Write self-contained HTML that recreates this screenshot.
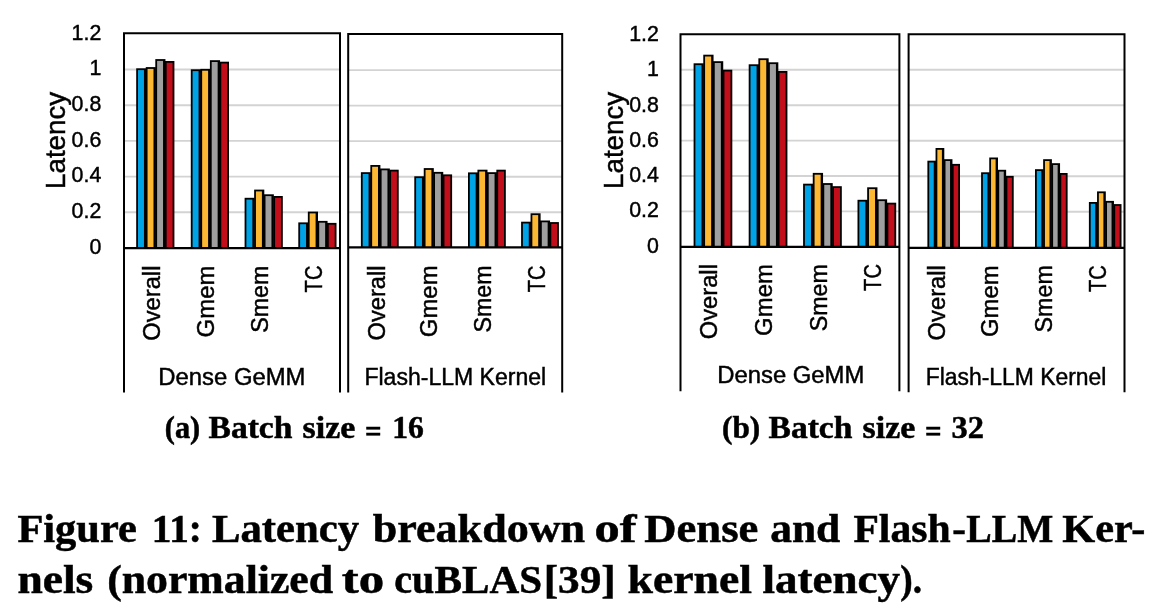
<!DOCTYPE html>
<html><head><meta charset="utf-8"><title>Figure 11</title>
<style>
html,body{margin:0;padding:0;background:#fff;}
body{width:1156px;height:614px;overflow:hidden;font-family:"Liberation Sans", sans-serif;}
svg{display:block;will-change:transform;}
svg text{font-family:"Liberation Sans", sans-serif;fill:#000;}
svg text.sf{font-family:"Liberation Serif", serif;}
svg text:not(.sf){stroke:#000;stroke-width:0.45px;}
svg text.sf{stroke:#000;stroke-width:0.5px;}
</style></head><body>
<svg width="1156" height="614" viewBox="0 0 1156 614">
<rect width="1156" height="614" fill="#fff"/>
<line x1="124.00" x2="340.00" y1="69.50" y2="69.50" stroke="#D3D3D3" stroke-width="1.9"/>
<line x1="124.00" x2="340.00" y1="105.20" y2="105.20" stroke="#D3D3D3" stroke-width="1.9"/>
<line x1="124.00" x2="340.00" y1="140.90" y2="140.90" stroke="#D3D3D3" stroke-width="1.9"/>
<line x1="124.00" x2="340.00" y1="176.60" y2="176.60" stroke="#D3D3D3" stroke-width="1.9"/>
<line x1="124.00" x2="340.00" y1="212.30" y2="212.30" stroke="#D3D3D3" stroke-width="1.9"/>
<rect x="136.20" y="68.30" width="10.15" height="179.75" fill="#000"/>
<rect x="145.75" y="67.10" width="10.15" height="180.95" fill="#000"/>
<rect x="155.30" y="59.10" width="10.15" height="188.95" fill="#000"/>
<rect x="164.85" y="61.00" width="9.55" height="187.05" fill="#000"/>
<rect x="190.80" y="69.30" width="10.15" height="178.75" fill="#000"/>
<rect x="200.35" y="68.90" width="10.15" height="179.15" fill="#000"/>
<rect x="209.90" y="60.20" width="10.15" height="187.85" fill="#000"/>
<rect x="219.45" y="61.70" width="9.55" height="186.35" fill="#000"/>
<rect x="244.60" y="197.80" width="10.15" height="50.25" fill="#000"/>
<rect x="254.15" y="189.60" width="10.15" height="58.45" fill="#000"/>
<rect x="263.70" y="194.30" width="10.15" height="53.75" fill="#000"/>
<rect x="273.25" y="196.00" width="9.55" height="52.05" fill="#000"/>
<rect x="298.30" y="222.40" width="10.15" height="25.65" fill="#000"/>
<rect x="307.85" y="211.60" width="10.15" height="36.45" fill="#000"/>
<rect x="317.40" y="220.90" width="10.15" height="27.15" fill="#000"/>
<rect x="326.95" y="222.90" width="9.55" height="25.15" fill="#000"/>
<rect x="138.00" y="70.10" width="5.95" height="177.95" fill="#00A4E6"/>
<rect x="147.55" y="68.90" width="5.95" height="179.15" fill="#FDB833"/>
<rect x="157.10" y="60.90" width="5.95" height="187.15" fill="#9F9F9F"/>
<rect x="166.65" y="62.80" width="5.95" height="185.25" fill="#C20D1B"/>
<rect x="192.60" y="71.10" width="5.95" height="176.95" fill="#00A4E6"/>
<rect x="202.15" y="70.70" width="5.95" height="177.35" fill="#FDB833"/>
<rect x="211.70" y="62.00" width="5.95" height="186.05" fill="#9F9F9F"/>
<rect x="221.25" y="63.50" width="5.95" height="184.55" fill="#C20D1B"/>
<rect x="246.40" y="199.60" width="5.95" height="48.45" fill="#00A4E6"/>
<rect x="255.95" y="191.40" width="5.95" height="56.65" fill="#FDB833"/>
<rect x="265.50" y="196.10" width="5.95" height="51.95" fill="#9F9F9F"/>
<rect x="275.05" y="197.80" width="5.95" height="50.25" fill="#C20D1B"/>
<rect x="300.10" y="224.20" width="5.95" height="23.85" fill="#00A4E6"/>
<rect x="309.65" y="213.40" width="5.95" height="34.65" fill="#FDB833"/>
<rect x="319.20" y="222.70" width="5.95" height="25.35" fill="#9F9F9F"/>
<rect x="328.75" y="224.70" width="5.95" height="23.35" fill="#C20D1B"/>
<path d="M124.00,392.50 V33.20 H340.00 V392.50" fill="none" stroke="#000" stroke-width="2.0" stroke-linejoin="miter"/>
<line x1="124.00" x2="340.00" y1="248.05" y2="248.05" stroke="#000" stroke-width="2.2"/>
<line x1="348.20" x2="562.20" y1="70.15" y2="70.15" stroke="#D3D3D3" stroke-width="1.9"/>
<line x1="348.20" x2="562.20" y1="105.66" y2="105.66" stroke="#D3D3D3" stroke-width="1.9"/>
<line x1="348.20" x2="562.20" y1="141.17" y2="141.17" stroke="#D3D3D3" stroke-width="1.9"/>
<line x1="348.20" x2="562.20" y1="176.68" y2="176.68" stroke="#D3D3D3" stroke-width="1.9"/>
<line x1="348.20" x2="562.20" y1="212.19" y2="212.19" stroke="#D3D3D3" stroke-width="1.9"/>
<rect x="360.90" y="172.20" width="10.05" height="75.10" fill="#000"/>
<rect x="370.35" y="165.00" width="10.05" height="82.30" fill="#000"/>
<rect x="379.80" y="168.50" width="10.05" height="78.80" fill="#000"/>
<rect x="389.25" y="169.70" width="9.45" height="77.60" fill="#000"/>
<rect x="414.30" y="176.30" width="10.05" height="71.00" fill="#000"/>
<rect x="423.75" y="168.10" width="10.05" height="79.20" fill="#000"/>
<rect x="433.20" y="171.90" width="10.05" height="75.40" fill="#000"/>
<rect x="442.65" y="174.40" width="9.45" height="72.90" fill="#000"/>
<rect x="468.00" y="172.40" width="10.05" height="74.90" fill="#000"/>
<rect x="477.45" y="169.70" width="10.05" height="77.60" fill="#000"/>
<rect x="486.90" y="172.20" width="10.05" height="75.10" fill="#000"/>
<rect x="496.35" y="169.70" width="9.45" height="77.60" fill="#000"/>
<rect x="521.10" y="221.70" width="10.05" height="25.60" fill="#000"/>
<rect x="530.55" y="213.30" width="10.05" height="34.00" fill="#000"/>
<rect x="540.00" y="220.50" width="10.05" height="26.80" fill="#000"/>
<rect x="549.45" y="222.10" width="9.45" height="25.20" fill="#000"/>
<rect x="362.70" y="174.00" width="5.85" height="73.30" fill="#00A4E6"/>
<rect x="372.15" y="166.80" width="5.85" height="80.50" fill="#FDB833"/>
<rect x="381.60" y="170.30" width="5.85" height="77.00" fill="#9F9F9F"/>
<rect x="391.05" y="171.50" width="5.85" height="75.80" fill="#C20D1B"/>
<rect x="416.10" y="178.10" width="5.85" height="69.20" fill="#00A4E6"/>
<rect x="425.55" y="169.90" width="5.85" height="77.40" fill="#FDB833"/>
<rect x="435.00" y="173.70" width="5.85" height="73.60" fill="#9F9F9F"/>
<rect x="444.45" y="176.20" width="5.85" height="71.10" fill="#C20D1B"/>
<rect x="469.80" y="174.20" width="5.85" height="73.10" fill="#00A4E6"/>
<rect x="479.25" y="171.50" width="5.85" height="75.80" fill="#FDB833"/>
<rect x="488.70" y="174.00" width="5.85" height="73.30" fill="#9F9F9F"/>
<rect x="498.15" y="171.50" width="5.85" height="75.80" fill="#C20D1B"/>
<rect x="522.90" y="223.50" width="5.85" height="23.80" fill="#00A4E6"/>
<rect x="532.35" y="215.10" width="5.85" height="32.20" fill="#FDB833"/>
<rect x="541.80" y="222.30" width="5.85" height="25.00" fill="#9F9F9F"/>
<rect x="551.25" y="223.90" width="5.85" height="23.40" fill="#C20D1B"/>
<path d="M348.20,392.50 V34.00 H562.20 V392.50" fill="none" stroke="#000" stroke-width="2.0" stroke-linejoin="miter"/>
<line x1="348.20" x2="562.20" y1="247.30" y2="247.30" stroke="#000" stroke-width="2.2"/>
<line x1="680.50" x2="899.40" y1="69.77" y2="69.77" stroke="#D3D3D3" stroke-width="1.9"/>
<line x1="680.50" x2="899.40" y1="105.18" y2="105.18" stroke="#D3D3D3" stroke-width="1.9"/>
<line x1="680.50" x2="899.40" y1="140.58" y2="140.58" stroke="#D3D3D3" stroke-width="1.9"/>
<line x1="680.50" x2="899.40" y1="175.99" y2="175.99" stroke="#D3D3D3" stroke-width="1.9"/>
<line x1="680.50" x2="899.40" y1="211.39" y2="211.39" stroke="#D3D3D3" stroke-width="1.9"/>
<rect x="693.60" y="63.30" width="10.28" height="183.60" fill="#000"/>
<rect x="703.27" y="54.70" width="10.28" height="192.20" fill="#000"/>
<rect x="712.95" y="61.20" width="10.28" height="185.70" fill="#000"/>
<rect x="722.62" y="69.70" width="9.68" height="177.20" fill="#000"/>
<rect x="748.70" y="64.30" width="10.28" height="182.60" fill="#000"/>
<rect x="758.38" y="58.30" width="10.28" height="188.60" fill="#000"/>
<rect x="768.05" y="62.30" width="10.28" height="184.60" fill="#000"/>
<rect x="777.73" y="71.00" width="9.68" height="175.90" fill="#000"/>
<rect x="803.10" y="183.70" width="10.28" height="63.20" fill="#000"/>
<rect x="812.77" y="172.90" width="10.28" height="74.00" fill="#000"/>
<rect x="822.45" y="183.10" width="10.28" height="63.80" fill="#000"/>
<rect x="832.12" y="186.20" width="9.68" height="60.70" fill="#000"/>
<rect x="857.50" y="199.80" width="10.28" height="47.10" fill="#000"/>
<rect x="867.17" y="187.30" width="10.28" height="59.60" fill="#000"/>
<rect x="876.85" y="199.30" width="10.28" height="47.60" fill="#000"/>
<rect x="886.52" y="202.70" width="9.68" height="44.20" fill="#000"/>
<rect x="695.40" y="65.10" width="6.08" height="181.80" fill="#00A4E6"/>
<rect x="705.07" y="56.50" width="6.08" height="190.40" fill="#FDB833"/>
<rect x="714.75" y="63.00" width="6.08" height="183.90" fill="#9F9F9F"/>
<rect x="724.42" y="71.50" width="6.08" height="175.40" fill="#C20D1B"/>
<rect x="750.50" y="66.10" width="6.08" height="180.80" fill="#00A4E6"/>
<rect x="760.17" y="60.10" width="6.08" height="186.80" fill="#FDB833"/>
<rect x="769.85" y="64.10" width="6.08" height="182.80" fill="#9F9F9F"/>
<rect x="779.52" y="72.80" width="6.08" height="174.10" fill="#C20D1B"/>
<rect x="804.90" y="185.50" width="6.08" height="61.40" fill="#00A4E6"/>
<rect x="814.57" y="174.70" width="6.08" height="72.20" fill="#FDB833"/>
<rect x="824.25" y="184.90" width="6.08" height="62.00" fill="#9F9F9F"/>
<rect x="833.92" y="188.00" width="6.08" height="58.90" fill="#C20D1B"/>
<rect x="859.30" y="201.60" width="6.08" height="45.30" fill="#00A4E6"/>
<rect x="868.97" y="189.10" width="6.08" height="57.80" fill="#FDB833"/>
<rect x="878.65" y="201.10" width="6.08" height="45.80" fill="#9F9F9F"/>
<rect x="888.32" y="204.50" width="6.08" height="42.40" fill="#C20D1B"/>
<path d="M680.50,391.30 V34.15 H899.40 V391.30" fill="none" stroke="#000" stroke-width="2.0" stroke-linejoin="miter"/>
<line x1="680.50" x2="899.40" y1="246.90" y2="246.90" stroke="#000" stroke-width="2.2"/>
<line x1="908.60" x2="1124.50" y1="69.77" y2="69.77" stroke="#D3D3D3" stroke-width="1.9"/>
<line x1="908.60" x2="1124.50" y1="105.27" y2="105.27" stroke="#D3D3D3" stroke-width="1.9"/>
<line x1="908.60" x2="1124.50" y1="140.77" y2="140.77" stroke="#D3D3D3" stroke-width="1.9"/>
<line x1="908.60" x2="1124.50" y1="176.27" y2="176.27" stroke="#D3D3D3" stroke-width="1.9"/>
<line x1="908.60" x2="1124.50" y1="211.77" y2="211.77" stroke="#D3D3D3" stroke-width="1.9"/>
<rect x="927.40" y="160.70" width="8.75" height="87.20" fill="#000"/>
<rect x="935.55" y="148.00" width="8.75" height="99.90" fill="#000"/>
<rect x="943.70" y="159.20" width="8.75" height="88.70" fill="#000"/>
<rect x="951.85" y="163.90" width="8.15" height="84.00" fill="#000"/>
<rect x="981.10" y="172.30" width="8.75" height="75.60" fill="#000"/>
<rect x="989.25" y="157.50" width="8.75" height="90.40" fill="#000"/>
<rect x="997.40" y="169.80" width="8.75" height="78.10" fill="#000"/>
<rect x="1005.55" y="175.90" width="8.15" height="72.00" fill="#000"/>
<rect x="1035.00" y="169.20" width="8.75" height="78.70" fill="#000"/>
<rect x="1043.15" y="159.20" width="8.75" height="88.70" fill="#000"/>
<rect x="1051.30" y="163.20" width="8.75" height="84.70" fill="#000"/>
<rect x="1059.45" y="173.00" width="8.15" height="74.90" fill="#000"/>
<rect x="1088.90" y="202.00" width="8.75" height="45.90" fill="#000"/>
<rect x="1097.05" y="191.40" width="8.75" height="56.50" fill="#000"/>
<rect x="1105.20" y="200.90" width="8.75" height="47.00" fill="#000"/>
<rect x="1113.35" y="204.10" width="8.15" height="43.80" fill="#000"/>
<rect x="929.20" y="162.50" width="4.55" height="85.40" fill="#00A4E6"/>
<rect x="937.35" y="149.80" width="4.55" height="98.10" fill="#FDB833"/>
<rect x="945.50" y="161.00" width="4.55" height="86.90" fill="#9F9F9F"/>
<rect x="953.65" y="165.70" width="4.55" height="82.20" fill="#C20D1B"/>
<rect x="982.90" y="174.10" width="4.55" height="73.80" fill="#00A4E6"/>
<rect x="991.05" y="159.30" width="4.55" height="88.60" fill="#FDB833"/>
<rect x="999.20" y="171.60" width="4.55" height="76.30" fill="#9F9F9F"/>
<rect x="1007.35" y="177.70" width="4.55" height="70.20" fill="#C20D1B"/>
<rect x="1036.80" y="171.00" width="4.55" height="76.90" fill="#00A4E6"/>
<rect x="1044.95" y="161.00" width="4.55" height="86.90" fill="#FDB833"/>
<rect x="1053.10" y="165.00" width="4.55" height="82.90" fill="#9F9F9F"/>
<rect x="1061.25" y="174.80" width="4.55" height="73.10" fill="#C20D1B"/>
<rect x="1090.70" y="203.80" width="4.55" height="44.10" fill="#00A4E6"/>
<rect x="1098.85" y="193.20" width="4.55" height="54.70" fill="#FDB833"/>
<rect x="1107.00" y="202.70" width="4.55" height="45.20" fill="#9F9F9F"/>
<rect x="1115.15" y="205.90" width="4.55" height="42.00" fill="#C20D1B"/>
<path d="M908.60,392.30 V34.15 H1124.50 V392.30" fill="none" stroke="#000" stroke-width="2.0" stroke-linejoin="miter"/>
<line x1="908.60" x2="1124.50" y1="247.90" y2="247.90" stroke="#000" stroke-width="2.2"/>
<text transform="translate(101.30,39.58) scale(0.95,1)" font-size="22.5" text-anchor="end" class="tk">1.2</text>
<text transform="translate(101.30,75.30) scale(0.95,1)" font-size="22.5" text-anchor="end" class="tk">1</text>
<text transform="translate(101.30,111.02) scale(0.95,1)" font-size="22.5" text-anchor="end" class="tk">0.8</text>
<text transform="translate(101.30,146.74) scale(0.95,1)" font-size="22.5" text-anchor="end" class="tk">0.6</text>
<text transform="translate(101.30,182.46) scale(0.95,1)" font-size="22.5" text-anchor="end" class="tk">0.4</text>
<text transform="translate(101.30,218.18) scale(0.95,1)" font-size="22.5" text-anchor="end" class="tk">0.2</text>
<text transform="translate(101.30,253.90) scale(0.95,1)" font-size="22.5" text-anchor="end" class="tk">0</text>
<text transform="translate(658.90,40.88) scale(0.95,1)" font-size="22.5" text-anchor="end" class="tk">1.2</text>
<text transform="translate(658.90,76.20) scale(0.95,1)" font-size="22.5" text-anchor="end" class="tk">1</text>
<text transform="translate(658.90,111.52) scale(0.95,1)" font-size="22.5" text-anchor="end" class="tk">0.8</text>
<text transform="translate(658.90,146.84) scale(0.95,1)" font-size="22.5" text-anchor="end" class="tk">0.6</text>
<text transform="translate(658.90,182.16) scale(0.95,1)" font-size="22.5" text-anchor="end" class="tk">0.4</text>
<text transform="translate(658.90,217.48) scale(0.95,1)" font-size="22.5" text-anchor="end" class="tk">0.2</text>
<text transform="translate(658.90,252.80) scale(0.95,1)" font-size="22.5" text-anchor="end" class="tk">0</text>
<text transform="translate(65.00,188.9) rotate(-90)" font-size="27.6" textLength="97.0" lengthAdjust="spacingAndGlyphs">Latency</text>
<text transform="translate(623.20,188.9) rotate(-90)" font-size="27.6" textLength="97.0" lengthAdjust="spacingAndGlyphs">Latency</text>
<text transform="translate(160.00,265.60) rotate(-90)" text-anchor="end" font-size="23.5" textLength="75.2" lengthAdjust="spacingAndGlyphs">Overall</text>
<text transform="translate(214.00,265.60) rotate(-90)" text-anchor="end" font-size="23.5" textLength="71.8" lengthAdjust="spacingAndGlyphs">Gmem</text>
<text transform="translate(267.80,265.60) rotate(-90)" text-anchor="end" font-size="23.5" textLength="67.2" lengthAdjust="spacingAndGlyphs">Smem</text>
<text transform="translate(322.30,265.60) rotate(-90)" text-anchor="end" font-size="23.5" textLength="26.8" lengthAdjust="spacingAndGlyphs">TC</text>
<text transform="translate(384.50,265.40) rotate(-90)" text-anchor="end" font-size="23.5" textLength="75.2" lengthAdjust="spacingAndGlyphs">Overall</text>
<text transform="translate(437.30,265.40) rotate(-90)" text-anchor="end" font-size="23.5" textLength="71.8" lengthAdjust="spacingAndGlyphs">Gmem</text>
<text transform="translate(490.80,265.40) rotate(-90)" text-anchor="end" font-size="23.5" textLength="67.2" lengthAdjust="spacingAndGlyphs">Smem</text>
<text transform="translate(544.80,265.40) rotate(-90)" text-anchor="end" font-size="23.5" textLength="26.8" lengthAdjust="spacingAndGlyphs">TC</text>
<text transform="translate(717.40,264.10) rotate(-90)" text-anchor="end" font-size="23.5" textLength="75.2" lengthAdjust="spacingAndGlyphs">Overall</text>
<text transform="translate(772.20,264.10) rotate(-90)" text-anchor="end" font-size="23.5" textLength="71.8" lengthAdjust="spacingAndGlyphs">Gmem</text>
<text transform="translate(826.80,264.10) rotate(-90)" text-anchor="end" font-size="23.5" textLength="67.2" lengthAdjust="spacingAndGlyphs">Smem</text>
<text transform="translate(881.20,264.10) rotate(-90)" text-anchor="end" font-size="23.5" textLength="26.8" lengthAdjust="spacingAndGlyphs">TC</text>
<text transform="translate(944.90,265.20) rotate(-90)" text-anchor="end" font-size="23.5" textLength="75.2" lengthAdjust="spacingAndGlyphs">Overall</text>
<text transform="translate(997.80,265.20) rotate(-90)" text-anchor="end" font-size="23.5" textLength="71.8" lengthAdjust="spacingAndGlyphs">Gmem</text>
<text transform="translate(1052.00,265.20) rotate(-90)" text-anchor="end" font-size="23.5" textLength="67.2" lengthAdjust="spacingAndGlyphs">Smem</text>
<text transform="translate(1105.90,265.20) rotate(-90)" text-anchor="end" font-size="23.5" textLength="26.8" lengthAdjust="spacingAndGlyphs">TC</text>
<text x="158.30" y="384.60" font-size="23.5" text-anchor="start" textLength="147.2" lengthAdjust="spacingAndGlyphs">Dense GeMM</text>
<text x="364.40" y="384.50" font-size="23.5" text-anchor="start" textLength="181.8" lengthAdjust="spacingAndGlyphs">Flash-LLM Kernel</text>
<text x="717.20" y="382.60" font-size="23.5" text-anchor="start" textLength="147.2" lengthAdjust="spacingAndGlyphs">Dense GeMM</text>
<text x="925.80" y="384.60" font-size="23.5" text-anchor="start" textLength="180.6" lengthAdjust="spacingAndGlyphs">Flash-LLM Kernel</text>
<text x="164.80" y="437.90" font-size="30.6" text-anchor="start" class="sf" font-weight="bold" textLength="35.4" lengthAdjust="spacingAndGlyphs">(a)</text>
<text x="208.50" y="437.90" font-size="30.6" text-anchor="start" class="sf" font-weight="bold" textLength="83.9" lengthAdjust="spacingAndGlyphs">Batch</text>
<text x="302.60" y="437.90" font-size="30.6" text-anchor="start" class="sf" font-weight="bold" textLength="52.6" lengthAdjust="spacingAndGlyphs">size</text>
<text x="364.90" y="442.10" font-size="30.6" text-anchor="start" class="sf" font-weight="bold" textLength="16.6" lengthAdjust="spacingAndGlyphs">=</text>
<text x="392.30" y="437.90" font-size="30.6" text-anchor="start" class="sf" font-weight="bold" textLength="31.6" lengthAdjust="spacingAndGlyphs">16</text>
<text x="722.00" y="437.90" font-size="30.6" text-anchor="start" class="sf" font-weight="bold" textLength="38.2" lengthAdjust="spacingAndGlyphs">(b)</text>
<text x="768.50" y="437.90" font-size="30.6" text-anchor="start" class="sf" font-weight="bold" textLength="83.9" lengthAdjust="spacingAndGlyphs">Batch</text>
<text x="862.60" y="437.90" font-size="30.6" text-anchor="start" class="sf" font-weight="bold" textLength="52.6" lengthAdjust="spacingAndGlyphs">size</text>
<text x="924.90" y="442.10" font-size="30.6" text-anchor="start" class="sf" font-weight="bold" textLength="16.6" lengthAdjust="spacingAndGlyphs">=</text>
<text x="951.50" y="437.90" font-size="30.6" text-anchor="start" class="sf" font-weight="bold" textLength="32.4" lengthAdjust="spacingAndGlyphs">32</text>
<text x="17.40" y="541.60" font-size="39.3" text-anchor="start" class="sf" font-weight="bold" textLength="119.5" lengthAdjust="spacingAndGlyphs">Figure</text>
<text x="151.80" y="541.60" font-size="39.3" text-anchor="start" class="sf" font-weight="bold" textLength="50.0" lengthAdjust="spacingAndGlyphs">11:</text>
<text x="212.00" y="541.60" font-size="39.3" text-anchor="start" class="sf" font-weight="bold" textLength="147.1" lengthAdjust="spacingAndGlyphs">Latency</text>
<text x="372.70" y="541.60" font-size="39.3" text-anchor="start" class="sf" font-weight="bold" textLength="212.4" lengthAdjust="spacingAndGlyphs">breakdown</text>
<text x="594.50" y="541.60" font-size="39.3" text-anchor="start" class="sf" font-weight="bold" textLength="42.0" lengthAdjust="spacingAndGlyphs">of</text>
<text x="644.30" y="541.60" font-size="39.3" text-anchor="start" class="sf" font-weight="bold" textLength="114.1" lengthAdjust="spacingAndGlyphs">Dense</text>
<text x="770.20" y="541.60" font-size="39.3" text-anchor="start" class="sf" font-weight="bold" textLength="70.0" lengthAdjust="spacingAndGlyphs">and</text>
<text x="853.40" y="541.60" font-size="39.3" text-anchor="start" class="sf" font-weight="bold" textLength="97.2" lengthAdjust="spacingAndGlyphs">Flash</text>
<text x="952.30" y="541.60" font-size="39.3" text-anchor="start" class="sf" font-weight="bold" textLength="13.7" lengthAdjust="spacingAndGlyphs">-</text>
<text x="966.30" y="541.60" font-size="39.3" text-anchor="start" class="sf" font-weight="bold" textLength="86.9" lengthAdjust="spacingAndGlyphs">LLM</text>
<text x="1062.30" y="541.60" font-size="39.3" text-anchor="start" class="sf" font-weight="bold" textLength="83.0" lengthAdjust="spacingAndGlyphs">Ker-</text>
<text x="17.40" y="592.80" font-size="39.3" text-anchor="start" class="sf" font-weight="bold" textLength="75.9" lengthAdjust="spacingAndGlyphs">nels</text>
<text x="107.20" y="592.80" font-size="39.3" text-anchor="start" class="sf" font-weight="bold" textLength="225.9" lengthAdjust="spacingAndGlyphs">(normalized</text>
<text x="341.80" y="592.80" font-size="39.3" text-anchor="start" class="sf" font-weight="bold" textLength="42.4" lengthAdjust="spacingAndGlyphs">to</text>
<text x="394.20" y="592.80" font-size="39.3" text-anchor="start" class="sf" font-weight="bold" textLength="40.1" lengthAdjust="spacingAndGlyphs">cu</text>
<text x="434.60" y="592.80" font-size="39.3" text-anchor="start" class="sf" font-weight="bold" textLength="107.4" lengthAdjust="spacingAndGlyphs">BLAS</text>
<text x="543.70" y="592.80" font-size="39.3" text-anchor="start" class="sf" font-weight="bold" textLength="72.0" lengthAdjust="spacingAndGlyphs">[39]</text>
<text x="627.50" y="592.80" font-size="39.3" text-anchor="start" class="sf" font-weight="bold" textLength="124.5" lengthAdjust="spacingAndGlyphs">kernel</text>
<text x="762.40" y="592.80" font-size="39.3" text-anchor="start" class="sf" font-weight="bold" textLength="137.6" lengthAdjust="spacingAndGlyphs">latency</text>
<text x="900.30" y="592.80" font-size="39.3" text-anchor="start" class="sf" font-weight="bold" textLength="21.8" lengthAdjust="spacingAndGlyphs">).</text>
</svg>
</body></html>
